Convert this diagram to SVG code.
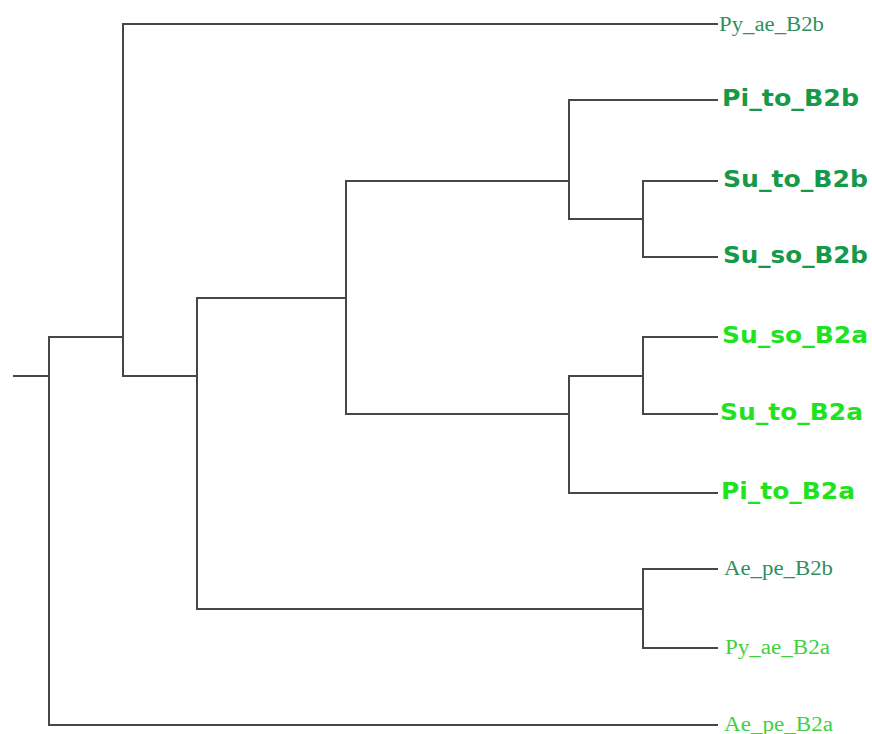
<svg xmlns="http://www.w3.org/2000/svg" width="872" height="734" viewBox="0 0 872 734">
  <style>
    .branch { fill: none; stroke: #474747; stroke-width: 2; stroke-linecap: square; }
    .bold { font-family: "DejaVu Sans", Verdana, sans-serif; font-weight: bold; font-size: 22.5px; }
    .plain { font-family: "Liberation Serif", "Times New Roman", serif; font-size: 20px; }
    .b2b-bold { fill: #17994a; }
    .b2a-bold { fill: #1fe31f; }
    .b2b-plain { fill: #2f8f5f; }
    .b2a-plain { fill: #40d040; }
  </style>
  <rect width="872" height="734" fill="#ffffff"/>

  <!-- tree branches -->
  <g id="connectors" class="branch">
    <path d="M14 376 H49"/>
    <path d="M123 337 H49 V725 H717"/>
    <path d="M717 24 H123 V376 H197"/>
    <path d="M346 298 H197 V609 H643"/>
    <path d="M569 181 H346 V414 H569"/>
    <path d="M717 100 H569 V219 H643"/>
    <path d="M717 181 H643 V257 H717"/>
    <path d="M643 376 H569 V493 H717"/>
    <path d="M717 337 H643 V414 H717"/>
    <path d="M717 569 H643 V648 H717"/>
  </g>

  <!-- leaf labels -->
  <g id="Py_ae_B2b"><text class="plain b2b-plain" x="719" y="31" textLength="105" lengthAdjust="spacingAndGlyphs">Py_ae_B2b</text></g>
  <g id="Pi_to_B2b"><text class="bold b2b-bold" x="722" y="106" textLength="137" lengthAdjust="spacingAndGlyphs">Pi_to_B2b</text></g>
  <g id="Su_to_B2b"><text class="bold b2b-bold" x="723" y="187" textLength="145" lengthAdjust="spacingAndGlyphs">Su_to_B2b</text></g>
  <g id="Su_so_B2b"><text class="bold b2b-bold" x="723" y="263" textLength="145" lengthAdjust="spacingAndGlyphs">Su_so_B2b</text></g>
  <g id="Su_so_B2a"><text class="bold b2a-bold" x="722" y="343" textLength="146" lengthAdjust="spacingAndGlyphs">Su_so_B2a</text></g>
  <g id="Su_to_B2a"><text class="bold b2a-bold" x="720" y="420" textLength="143" lengthAdjust="spacingAndGlyphs">Su_to_B2a</text></g>
  <g id="Pi_to_B2a"><text class="bold b2a-bold" x="721" y="499" textLength="134" lengthAdjust="spacingAndGlyphs">Pi_to_B2a</text></g>
  <g id="Ae_pe_B2b"><text class="plain b2b-plain" x="724" y="575" textLength="109" lengthAdjust="spacingAndGlyphs">Ae_pe_B2b</text></g>
  <g id="Py_ae_B2a"><text class="plain b2a-plain" x="725" y="654" textLength="105" lengthAdjust="spacingAndGlyphs">Py_ae_B2a</text></g>
  <g id="Ae_pe_B2a"><text class="plain b2a-plain" x="724" y="731" textLength="109" lengthAdjust="spacingAndGlyphs">Ae_pe_B2a</text></g>
</svg>
